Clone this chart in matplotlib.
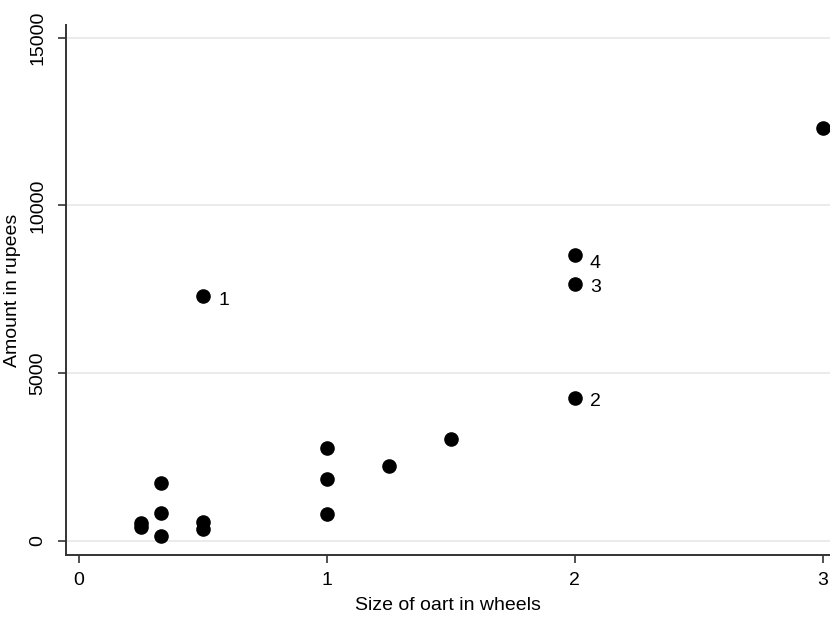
import matplotlib
matplotlib.use("Agg")
import matplotlib.pyplot as plt

plt.rcParams['font.family'] = ['Liberation Sans', 'DejaVu Sans']

# 바퀴 수 / 금액 (루피)
wheels = [0.25, 0.25, 0.333, 0.333, 0.333, 0.5, 0.5, 0.5,
          1, 1, 1, 1.25, 1.5, 2, 2, 2, 3]
amount = [540, 400, 1730, 840, 160, 570, 360, 7300,
          2770, 1850, 810, 2240, 3050, 4250, 7650, 8520, 12300]

# 번호 붙은 점들
labels = ["1", "2", "3", "4"]
label_x = [0.5, 2, 2, 2]
label_y = [7300, 4250, 7650, 8520]
label_dy = [-3, -2, -2, -6]

fig = plt.figure(figsize=(8.3, 6.17), dpi=100)
ax = fig.add_axes([66 / 830, 1 - 555 / 617, 1 - 66 / 830, (555 - 25) / 617])

ax.scatter(wheels, amount, s=90, color='black', zorder=3, clip_on=False)

for lab, x, y, dy in zip(labels, label_x, label_y, label_dy):
    ax.annotate(lab, (x, y), xytext=(11, dy), textcoords='offset points',
                ha='left', va='center', fontsize=14, color='black')

ax.set_xlim(-0.052, 3.03)
ax.set_ylim(-420, 15380)
ax.set_xticks([0, 1, 2, 3])
ax.set_yticks([0, 5000, 10000, 15000])

ax.grid(axis='y', color='#e8e8e8', linewidth=1.2, zorder=0)
ax.set_axisbelow(True)

for side in ['top', 'right']:
    ax.spines[side].set_visible(False)
for side in ['left', 'bottom']:
    ax.spines[side].set_color('#333333')
    ax.spines[side].set_linewidth(1.4)

ax.tick_params(axis='both', direction='out', length=6, width=1.2,
               color='#333333', labelsize=14)
ax.tick_params(axis='x', pad=6)
ax.tick_params(axis='y', pad=8)
for t in ax.get_yticklabels():
    t.set_rotation(90)
    t.set_va('center')

ax.set_xlabel("Size of oart in wheels", fontsize=14, labelpad=6)
ax.set_ylabel("Amount in rupees", fontsize=14, labelpad=6)

fig.savefig("out.png", dpi=100)
